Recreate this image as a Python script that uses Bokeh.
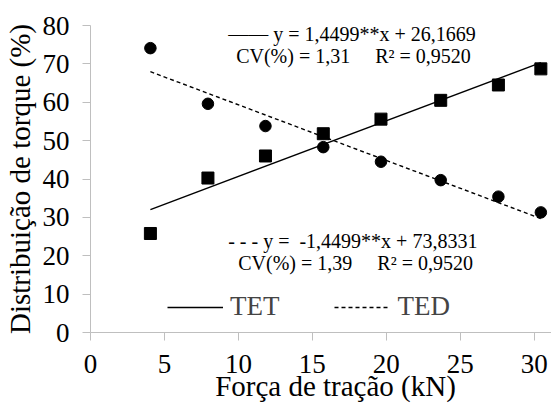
from bokeh.plotting import figure
from bokeh.models import Range1d, FixedTicker, Label, Legend, LegendItem
from bokeh.embed import file_html
from bokeh.resources import INLINE

# ---- data ----
force_kn = [4.05, 7.94, 11.83, 15.74, 19.64, 23.68, 27.58, 30.45]
tet = [25.8, 40.25, 46.0, 51.8, 55.6, 60.5, 64.5, 68.7]
ted = [74.1, 59.6, 53.8, 48.3, 44.5, 39.7, 35.4, 31.3]
tet_slope, tet_intercept = 1.4499, 26.1669
ted_slope, ted_intercept = -1.4499, 73.8331
x_ticks = [0, 5, 10, 15, 20, 25, 30]
y_ticks = [0, 10, 20, 30, 40, 50, 60, 70, 80]

x_title = "Força de tração (kN)"
y_title = "Distribuição de torque (%)"
eq1_line1 = "\u2014\u2014 y = 1,4499**x + 26,1669"
eq1_line2 = "CV(%) = 1,31" + "\u00a0" * 5 + "R\u00b2 = 0,9520"
eq2_line1 = "- - - y =\u00a0 -1,4499**x + 73,8331"
eq2_line2 = "CV(%) = 1,39" + "\u00a0" * 5 + "R\u00b2 = 0,9520"

FONT = "Liberation Serif"
AXFONT = "serif"

p = figure(width=551, height=404, output_backend="svg", toolbar_location=None,
           x_range=Range1d(0, 31.17), y_range=Range1d(0, 80),
           min_border_left=89, min_border_right=0, min_border_top=25, min_border_bottom=65)
p.outline_line_color = None
p.xgrid.visible = False
p.ygrid.visible = False
p.background_fill_color = "white"

for ax in (p.xaxis[0], p.yaxis[0]):
    ax.axis_line_color = "#bfbfbf"
    ax.major_tick_line_color = "#bfbfbf"
    ax.minor_tick_line_color = None
    ax.major_tick_in = 0
    ax.major_tick_out = 8
    ax.major_label_text_font = AXFONT
    ax.major_label_text_font_size = "27px"
    ax.major_label_text_color = "black"
    ax.axis_label_text_font = AXFONT
    ax.axis_label_text_font_size = "29px"
    ax.axis_label_text_font_style = "normal"
    ax.axis_label_text_color = "black"

p.xaxis.ticker = FixedTicker(ticks=x_ticks)
p.yaxis.ticker = FixedTicker(ticks=y_ticks)
p.xaxis.axis_label = "\u00a0" * 4 + x_title
p.yaxis.axis_label = y_title
p.xaxis.major_label_standoff = 14
p.xaxis.axis_label_standoff = -6
p.yaxis.major_label_standoff = 13
p.yaxis.axis_label_standoff = 4

# trend lines from the stated regression equations
x_line = [min(force_kn), max(force_kn)]
tet_line = [tet_slope * v + tet_intercept for v in x_line]
ted_line = [ted_slope * v + ted_intercept for v in x_line]

r_tet = p.line(x_line, tet_line, line_color="black", line_width=1.4)
r_ted = p.line(x_line, ted_line, line_color="black", line_width=1.4, line_dash="4 3")

p.scatter(force_kn, tet, marker="square", size=12, fill_color="black", line_color="black")
p.scatter(force_kn, ted, marker="circle", size=11.5, fill_color="black", line_color="black")

for x, y, t in [(9.31, 77.8, eq1_line1), (9.85, 72.0, eq1_line2),
                (9.31, 23.8, eq2_line1), (9.99, 18.1, eq2_line2)]:
    p.add_layout(Label(x=x, y=y, text=t, text_font=FONT, text_font_size="20px",
                       text_color="black", text_align="left", text_baseline="alphabetic"))

legend = Legend(items=[LegendItem(label="TET", renderers=[r_tet]),
                       LegendItem(label="TED", renderers=[r_ted])],
                orientation="horizontal", location=(77, 10),
                padding=0, margin=0, spacing=55, label_standoff=7,
                glyph_width=56, glyph_height=30, label_height=30,
                label_text_font=AXFONT, label_text_font_size="27px",
                border_line_color=None, background_fill_alpha=0)
p.add_layout(legend)

open("out.html", "w").write(file_html(p, INLINE))
